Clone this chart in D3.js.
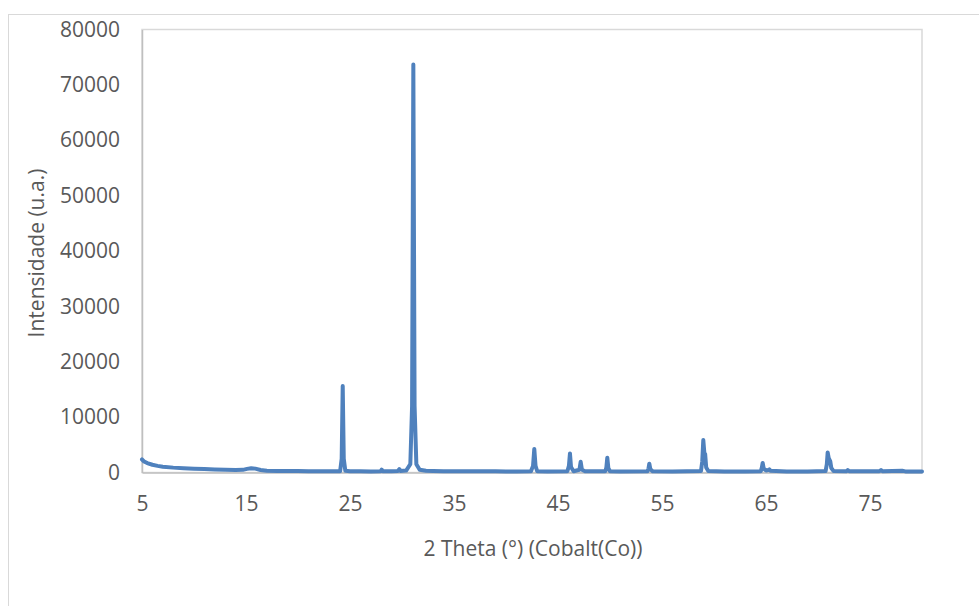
<!DOCTYPE html>
<html>
<head>
<meta charset="utf-8">
<script src="https://cdn.jsdelivr.net/npm/d3@7"></script>
<style>
  body { margin: 0; background: #fff; }
  text { font-family: "Open Sans", sans-serif; fill: #595959; }
</style>
</head>
<body>
<div id="chart"></div>
<script>
// 2 theta (deg) and intensity
var twoTheta = [5.0, 5.2, 5.5, 6.0, 6.5, 7.0, 8.0, 9.0, 10.0, 11.0, 12.0, 13.0, 14.0, 14.7, 15.1, 15.5, 15.9, 16.4, 17.0, 18.0,
  19.0, 20.0, 21.0, 22.0, 23.0, 24.05, 24.2, 24.3, 24.4, 24.55, 25.0, 26.0, 27.0, 27.95, 28.05, 28.15, 29.0, 29.6, 29.74, 29.85,
  30.4, 30.8, 30.97, 31.09, 31.21, 31.38, 31.7, 32.3, 33.0, 34.0, 35.0, 36.0, 37.0, 38.0, 39.0, 40.0, 41.0, 42.4, 42.6, 42.72,
  42.84, 43.0, 44.0, 45.9, 46.05, 46.15, 46.25, 46.5, 47.06, 47.18, 47.3, 47.6, 49.55, 49.65, 49.74, 49.84, 50.0, 51.0, 53.6, 53.7,
  53.78, 53.88, 54.1, 56.0, 58.75, 58.87, 58.97, 59.07, 59.15, 59.25, 59.45, 61.0, 63.0, 64.5, 64.6, 64.68, 64.78, 65.0, 65.22, 65.32,
  65.45, 67.0, 69.0, 70.73, 70.85, 70.93, 71.03, 71.18, 71.28, 71.5, 72.75, 72.86, 73.0, 75.9, 76.06, 76.2, 78.1, 78.4, 80.0]
var intensity = [2350, 2000, 1700, 1400, 1200, 1050, 880, 760, 680, 620, 560, 480, 430, 480, 650, 780, 700, 450, 330, 290,
  270, 250, 240, 230, 220, 230, 2500, 15600, 2500, 300, 220, 210, 200, 210, 520, 210, 210, 260, 600, 280,
  350, 1500, 12000, 73700, 12000, 1500, 500, 300, 260, 240, 230, 220, 230, 220, 210, 200, 200, 220, 1200, 4250,
  1200, 220, 200, 220, 1200, 3450, 1000, 230, 500, 1950, 500, 220, 220, 900, 2670, 800, 220, 200, 220, 700,
  1590, 600, 220, 200, 250, 2000, 5870, 3600, 3300, 900, 250, 200, 200, 230, 900, 1720, 700, 350, 450, 560,
  300, 200, 200, 250, 1500, 3630, 2600, 2000, 800, 250, 230, 450, 230, 220, 450, 230, 300, 200, 180]

var xTicks = [5, 15, 25, 35, 45, 55, 65, 75]
var yTicks = [0, 10000, 20000, 30000, 40000, 50000, 60000, 70000, 80000]

var data = twoTheta.map(function (t, i) { return { x: t, y: intensity[i] } })

var width = 979,
  height = 606

var svg = d3.select("#chart")
  .append("svg")
  .attr("width", width)
  .attr("height", height)

// chart area border (runs off the page right and bottom)
svg.append("rect")
  .attr("x", 8.5)
  .attr("y", 14.5)
  .attr("width", 1000)
  .attr("height", 1000)
  .attr("fill", "none")
  .attr("stroke", "#d9d9d9")

var x = d3.scaleLinear().domain([5, 80]).range([142, 922])
var y = d3.scaleLinear().domain([0, 80000]).range([472.5, 29.5])

// plot area border
svg.append("rect")
  .attr("x", x(5))
  .attr("y", y(80000))
  .attr("width", x(80) - x(5))
  .attr("height", y(0) - y(80000))
  .attr("fill", "none")
  .attr("stroke", "#d9d9d9")
  .attr("stroke-width", 1.5)

var yAxis = svg.append("g")
  .attr("transform", "translate(" + x(5) + ",0)")
  .call(d3.axisLeft(y).tickValues(yTicks).tickSize(0).tickPadding(22).tickFormat(d3.format("d")))
yAxis.select(".domain").attr("stroke", "#bfbfbf").attr("stroke-width", 1.5)

var xAxis = svg.append("g")
  .attr("transform", "translate(0," + y(0) + ")")
  .call(d3.axisBottom(x).tickValues(xTicks).tickSize(0).tickPadding(24))
xAxis.select(".domain").attr("stroke", "#bfbfbf").attr("stroke-width", 1.5)

svg.selectAll(".tick text")
  .style("font-family", "'Open Sans', sans-serif")
  .style("font-size", "21px")
  .attr("fill", "#595959")

var line = d3.line()
  .x(function (d) { return x(d.x) })
  .y(function (d) { return y(d.y) })

svg.append("path")
  .datum(data)
  .attr("d", line)
  .attr("fill", "none")
  .attr("stroke", "#4f81bd")
  .attr("stroke-width", 4)
  .attr("stroke-linejoin", "round")
  .attr("stroke-linecap", "round")

svg.append("text")
  .attr("x", 533)
  .attr("y", 556)
  .attr("text-anchor", "middle")
  .style("font-size", "21px")
  .text("2 Theta (°) (Cobalt(Co))")

svg.append("text")
  .attr("transform", "translate(44,253) rotate(-90)")
  .attr("text-anchor", "middle")
  .style("font-size", "21px")
  .text("Intensidade (u.a.)")
</script>
</body>
</html>
